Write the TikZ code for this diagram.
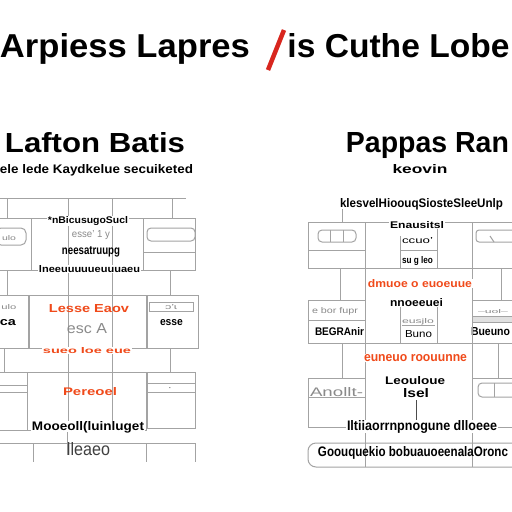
\documentclass[tikz,border=0pt]{standalone}
\usepackage{fontspec}
\setmainfont{Liberation Sans}
\definecolor{wallc}{HTML}{A3A3A3}
\definecolor{orgc}{HTML}{F04A1A}
\definecolor{redc}{HTML}{D8261E}
\definecolor{greytx}{HTML}{8A8A8A}
\newcommand{\gtx}[3]{\resizebox{#1pt}{#2pt}{#3}}
\begin{document}
\begin{tikzpicture}[x=1pt,y=-1pt,
  wall/.style={draw=wallc,line width=1pt},
  lbl/.style={inner sep=0pt,outer sep=0pt,anchor=base},
  blk/.style={lbl,text=black},
  org/.style={lbl,text=orgc},
  gry/.style={lbl,text=greytx},
  onwall/.style={fill=white,inner xsep=1pt,inner ysep=0.5pt}]
\useasboundingbox[fill=white] (0,0) rectangle (512,512);

% ---------------- titles ----------------
\node[blk] (t1) at (125,57) {\gtx{250}{24}{\bfseries Arpiess Lapres}};
\coordinate (s1) at (284,30);
\coordinate (s2) at (268,70);
\draw[redc,line width=4.5pt] (s1) -- (s2);
\node[blk] (t2) at (398.5,57) {\gtx{222}{24}{\bfseries is Cuthe Lobe}};
\node[blk] (h1) at (95,152) {\gtx{180}{20}{\bfseries Lafton Batis}};
\node[blk] (h2) at (427.5,152) {\gtx{163}{20}{\bfseries Pappas Ran}};
\node[blk] (s1t) at (96.5,173) {\gtx{193}{9}{\bfseries ele lede Kaydkelue secuiketed}};
\node[blk] (s2t) at (420,173) {\gtx{55}{9}{\bfseries keovin}};

% ---------------- left plan ----------------
% row 1
\draw[wall] (0,198) -- (186,198);
\draw[wall] (7,198) -- (7,218);
\draw[wall] (172,198) -- (172,218);
\draw[wall] (68,198) -- (68,422);
\draw[wall] (112,198) -- (112,422);
% row 2
\draw[wall] (-2,218) rectangle (31,270);
\draw[wall,rounded corners=5pt] (-4,228) rectangle (26,245);
\node[gry] (la1) at (9,240) {\gtx{14}{5}{ulo}};
\draw[wall] (31,218) rectangle (143,270);
\node[blk,onwall] (l1) at (88,223) {\gtx{80}{7}{\bfseries *nBicusugoSucl}};
\node[gry] (l2) at (91,237) {\gtx{38}{7}{esse' 1 y}};
\node[blk] (l3) at (91,254) {\gtx{58}{8}{\bfseries neesatruupg}};
\node[blk,onwall] (l4) at (89.5,272) {\gtx{101}{7}{\bfseries lneeuuuuueuuuaeu}};
\draw[wall] (143,218) rectangle (195,270);
\draw[wall,rounded corners=4pt] (147,228) rectangle (195,241);
\draw[wall] (143,252) -- (195,252);
% row 3
\draw[wall] (7,270) -- (7,295);
\draw[wall] (170,270) -- (170,295);
% row 4
\draw[wall] (-2,295) rectangle (28,348);
\node[gry] (la2) at (9,309) {\gtx{15}{5}{ulo}};
\node[blk] (la3) at (8,325) {\gtx{16}{6}{\bfseries ca}};
\draw[wall] (29,295) rectangle (146,348);
\node[org] (l5) at (89,312) {\gtx{80}{8}{\bfseries Lesse Eaov}};
\node[gry] (l6) at (87,333) {\gtx{40}{10}{esc A}};
\node[org,onwall] (l7) at (87,353) {\gtx{88}{6}{\bfseries sueo loe eue}};
\draw[wall] (147,295) rectangle (198,348);
\draw[wall] (149,302) rectangle (193,311);
\node[gry] (lb1) at (171,309.5) {\gtx{12}{5}{ɔ'ɩ}};
\node[blk] (lb2) at (171.5,325) {\gtx{23}{6}{\bfseries esse}};
% row 5
\draw[wall] (4,348) -- (4,372);
\draw[wall] (170,348) -- (170,372);
% row 6
\draw[wall] (-2,372) rectangle (27,430);
\draw[wall] (-2,385) -- (27,385);
\draw[wall] (-2,392) -- (27,392);
\draw[wall] (27,372) rectangle (146,430);
\node[org] (l8) at (90,395) {\gtx{54}{8}{\bfseries Pereoel}};
\node[blk,onwall] (l9) at (88,430) {\gtx{112}{9}{\bfseries Mooeoll(luinluget}};
\draw[wall] (147,372) rectangle (195,428);
\draw[wall] (147,383) -- (195,383);
\draw[wall] (147,392) -- (195,392);
\node[gry] (lb3) at (170,390) {\gtx{3}{3}{\bfseries ·}};
% row 7
\draw[wall] (0,443) -- (195,443);
\draw[wall] (33,443) -- (33,462);
\draw[wall] (146,443) -- (146,462);
\draw[wall] (195,443) -- (195,462);
\draw[wall] (67,432) -- (67,455);
\node[lbl,text=black!75] (l10) at (88.5,455) {\gtx{43}{13}{lleaeo}};

% ---------------- right plan ----------------
\node[blk] (r1) at (421.5,207) {\gtx{163}{9}{\bfseries klesvelHioouqSiosteSleeUnlp}};
\draw[wall] (342,209) -- (342,222);
\draw[wall] (308,222) -- (512,222);
% row A
\draw[wall] (308,222) rectangle (365,268);
\draw[wall,rounded corners=4pt] (318,230) rectangle (356,242);
\draw[wall] (330,230) -- (330,242);
\draw[wall] (343,230) -- (343,242);
\draw[wall] (308,250) -- (365,250);
\draw[wall] (400,236) -- (400,268);
\draw[wall] (437,222) -- (437,268);
\draw[wall] (400,250) -- (437,250);
\node[blk,onwall] (r2) at (417,228) {\gtx{54}{7}{\bfseries Enausitsl}};
\node[blk] (r3) at (417.5,243) {\gtx{31}{6}{ccuo'}};
\node[blk] (r4) at (417.5,263) {\gtx{31}{7}{\bfseries su g leo}};
\draw[wall] (472,222) rectangle (514,268);
\draw[wall,rounded corners=3pt] (514,230) -- (476,230) -- (476,242) -- (514,242);
\draw[wall] (490,236) -- (494,242);
% row B
\draw[wall] (308,268) -- (512,268);
\draw[wall] (340,268) -- (340,300);
\draw[wall] (501,268) -- (501,300);
% row C
\draw[wall] (308,300) rectangle (365,343);
\node[gry] (r9) at (335,313) {\gtx{46}{6}{e bor fupr}};
\draw[wall] (308,320) -- (365,320);
\node[blk] (r10) at (339.5,335) {\gtx{49}{8}{\bfseries BEGRAnir}};
\draw[wall] (400,300) rectangle (437,343);
\node[blk,onwall] (r6) at (416.5,306) {\gtx{53}{8}{\bfseries nnoeeuei}};
\node[gry] (r7) at (418,323) {\gtx{32}{5}{eusjlo}};
\draw[wall] (402,325) -- (435,325);
\node[blk] (r8) at (418.5,337) {\gtx{27}{7}{Buno}};
\draw[wall] (472,300) rectangle (514,343);
\node[gry] (r11b) at (493,313) {\gtx{30}{4}{--uol--}};
\draw[wallc,fill=black!12] (472,316) rectangle (514,322);
\node[blk] (r11) at (490.5,335) {\gtx{39}{8}{\bfseries Bueuno}};
% row D
\draw[wall] (308,343) -- (512,343);
\draw[wall] (342,343) -- (342,378);
\draw[wall] (498,343) -- (498,378);
\draw[wall] (365,222) -- (365,467);
\draw[wall] (472,222) -- (472,467);
\node[org,onwall] (r5) at (420,287) {\gtx{104}{8}{\bfseries dmuoe o euoeuue}};
\node[org,onwall] (r12) at (415.5,361) {\gtx{103}{7}{\bfseries euneuo roouunne}};
\node[blk] (r13) at (415,384) {\gtx{60}{8}{\bfseries Leouloue}};
\node[blk] (r14) at (416,397) {\gtx{26}{9}{\bfseries lsel}};
\coordinate (v1) at (416,400);
\coordinate (v2) at (416,422);
\draw[draw=black!70,line width=0.8pt] (v1) -- (v2);
% row E
\draw[wall] (308,378) rectangle (365,427);
\node[gry] (r17) at (336.5,396) {\gtx{53}{9}{Anollt-}};
\draw[wall] (308,397) -- (365,397);
\draw[wall] (472,378) rectangle (514,427);
\draw[wall,rounded corners=4pt] (514,383) -- (478,383) -- (478,397) -- (514,397);
\draw[wall] (494,383) -- (494,397);
\node[blk,onwall] (r15) at (422,430) {\gtx{150}{10}{\bfseries Iltiiaorrnpnogune dlloeee}};
\draw[wall,rounded corners=8pt] (308,443) rectangle (522,467);
\node[blk] (r16) at (413,456) {\gtx{190}{10}{\bfseries Goouquekio bobuauoeenalaOronc}};
\end{tikzpicture}
\end{document}
